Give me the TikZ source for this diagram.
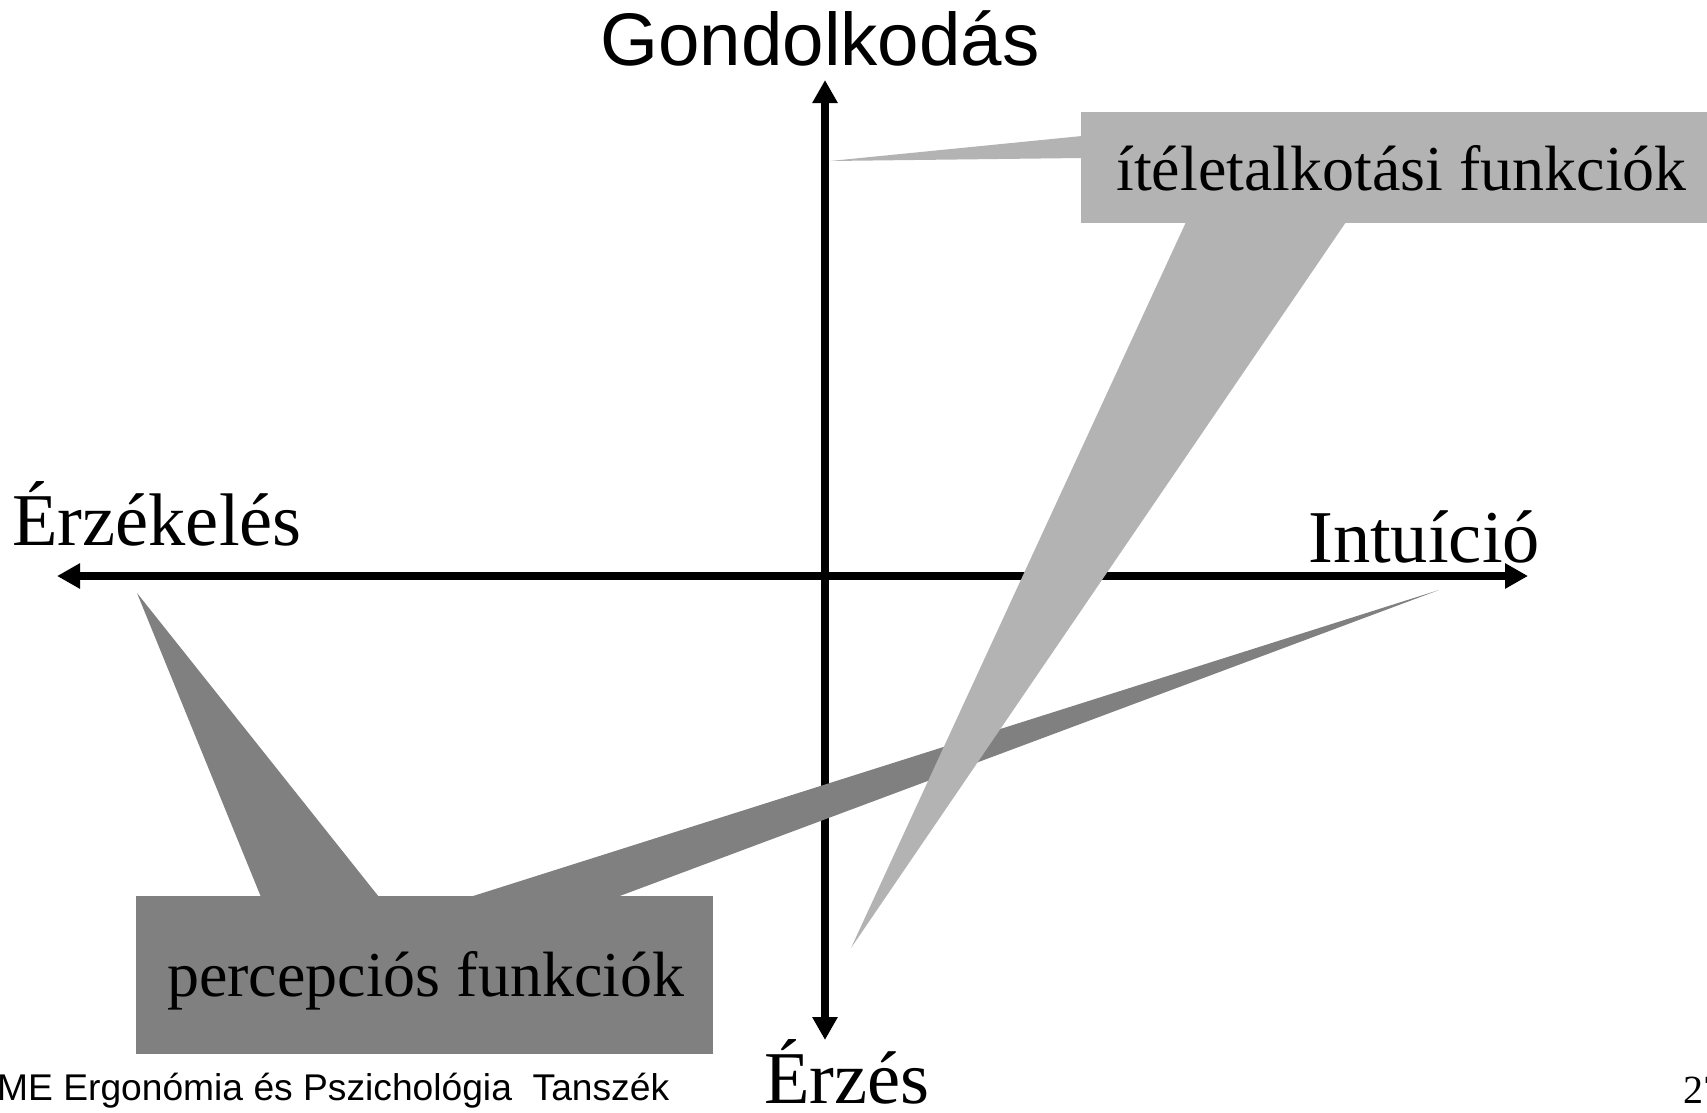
\documentclass[tikz,border=0pt]{standalone}
\usepackage{fontspec}
\setmainfont{Liberation Serif}
\setsansfont{Liberation Sans}
\usetikzlibrary{arrows.meta}
\definecolor{lightcall}{RGB}{179,179,179}
\definecolor{darkcall}{RGB}{128,128,128}
\tikzset{
  axisline/.style={line width=8pt,{Triangle[length=23pt,width=24pt]}-{Triangle[length=23pt,width=24pt]}},
  biglabel/.style={inner sep=0pt,font=\fontsize{74.5}{80}\selectfont},
  sanslabel/.style={inner sep=0pt,font=\sffamily\fontsize{74.5}{80}\selectfont},
  calltext/.style={inner sep=0pt,font=\fontsize{64}{70}\selectfont},
  footer/.style={inner sep=0pt,font=\sffamily\fontsize{37.2}{40}\selectfont},
  pagenum/.style={inner sep=0pt,font=\fontsize{40}{44}\selectfont},
}
\begin{document}
\begin{tikzpicture}[x=1pt,y=-1pt]
\clip (0,0) rectangle (1707,1112);
\fill[white] (0,0) rectangle (1707,1112);
% axis end points
\coordinate (top) at (825,80);
\coordinate (bottom) at (825,1040);
\coordinate (left) at (57,576);
\coordinate (right) at (1528,576);
\draw[axisline] (bottom) -- (top);
\draw[axisline] (left) -- (right);
% dark callout: percepcios funkciok
\coordinate (tipS) at (137,593);
\coordinate (tipI) at (1439,590);
\fill[darkcall] (136,896) rectangle (713,1054);
\fill[darkcall] (261,897) -- (tipS) -- (379,897) -- cycle;
\fill[darkcall] (470,897) -- (tipI) -- (617,897) -- cycle;
% light callout: iteletalkotasi funkciok
\coordinate (tipG) at (830,161);
\coordinate (tipE) at (851,948);
\fill[lightcall] (1081,112) rectangle (1720,223);
\fill[lightcall] (1082,136) -- (tipG) -- (1082,158) -- cycle;
\fill[lightcall] (1186,222) -- (tipE) -- (1346,222) -- cycle;
% labels
\node[sanslabel,anchor=base] (gond) at (820,65) {Gondolkodás};
\node[biglabel,anchor=base west] (erzek) at (12,545) {Érzékelés};
\node[biglabel,anchor=base west] (intu) at (1308,562) {Intuíció};
\node[biglabel,anchor=base west] (erzes) at (764,1103) {Érzés};
\node[calltext,anchor=base west] (itel) at (1116,190) {ítéletalkotási funkciók};
\node[calltext,anchor=base west] (perc) at (167,996) {percepciós funkciók};
\node[footer,anchor=base west] (foot) at (-3,1100) {ME Ergonómia és Pszichológia\ \ Tanszék};
\node[pagenum,anchor=base west] (page) at (1683,1103) {27};
\end{tikzpicture}
\end{document}
